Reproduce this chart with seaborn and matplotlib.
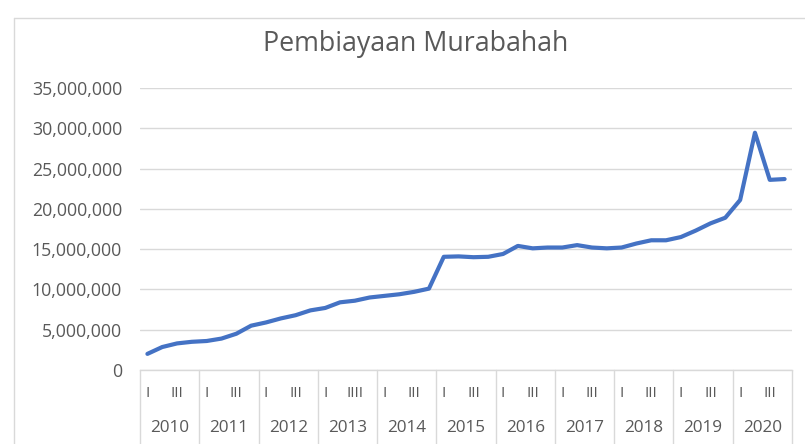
import matplotlib
matplotlib.use("Agg")
import matplotlib.pyplot as plt
import matplotlib.transforms as mtransforms
import seaborn as sns
import pandas as pd
import numpy as np

years = ["2010", "2011", "2012", "2013", "2014", "2015", "2016",
         "2017", "2018", "2019", "2020"]
quarter_labels = ["I", "II", "III", "IV"] * 3 + ["I", "II", "IIII", "IV"] + ["I", "II", "III", "IV"] * 7
values = [2.0, 2.85, 3.3, 3.5,
          3.6, 3.9, 4.5, 5.5,
          5.9, 6.4, 6.8, 7.4,
          7.7, 8.4, 8.6, 9.0,
          9.2, 9.4, 9.7, 10.1,
          14.05, 14.1, 14.0, 14.05,
          14.4, 15.4, 15.1, 15.2,
          15.2, 15.5, 15.2, 15.1,
          15.2, 15.7, 16.1, 16.1,
          16.5, 17.3, 18.2, 18.9,
          21.1, 29.45, 23.6, 23.7]
values = [v * 1e6 for v in values]

df = pd.DataFrame({"idx": np.arange(len(values)), "value": values})

sns.set_style("white")
plt.rcParams["font.family"] = ["Open Sans", "DejaVu Sans"]

W, H = 805, 444
fig = plt.figure(figsize=(W / 100, H / 100), dpi=100)
ax = fig.add_axes([140 / W, (H - 370) / H, (792 - 140) / W, (370 - 88) / H])

grey_text = "#595959"
grid_col = "#d9d9d9"

sns.lineplot(data=df, x="idx", y="value", ax=ax, color="#4472C4", linewidth=3.0)

ax.set_xlim(-0.5, len(values) - 0.5)
ax.set_ylim(0, 35e6)
ax.set_yticks(np.arange(0, 35e6 + 1, 5e6))
ax.yaxis.set_major_formatter(matplotlib.ticker.FuncFormatter(lambda v, p: f"{int(v):,}"))
ax.grid(axis="y", color=grid_col, linewidth=1)
ax.set_axisbelow(True)
for s in ["top", "right", "left"]:
    ax.spines[s].set_visible(False)
ax.spines["bottom"].set_color(grid_col)
ax.spines["bottom"].set_linewidth(1)
ax.tick_params(axis="y", length=0, pad=13, labelsize=12.8, labelcolor=grey_text)
ax.set_xticks([])
ax.set_xlabel("")
ax.set_ylabel("")

trans = mtransforms.blended_transform_factory(ax.transData, ax.transAxes)
px = 1 / (370 - 88)
# year separators
for k in range(len(years) + 1):
    xb = -0.5 + 4 * k
    ax.plot([xb, xb], [0, -80 * px], transform=trans, color=grid_col, lw=1, clip_on=False)
# quarter labels (every other)
for i, lab in enumerate(quarter_labels):
    if i % 2 == 0:
        ax.text(i, -23 * px, lab, transform=trans, ha="center", va="center",
                fontsize=11, color=grey_text, clip_on=False)
# year labels
for k, y in enumerate(years):
    ax.text(4 * k + 1.5, -58 * px, y, transform=trans, ha="center", va="center",
            fontsize=12.3, color=grey_text, clip_on=False)

fig.text(416 / W, 1 - 44 / H, "Pembiayaan Murabahah", ha="center", va="center",
         fontsize=19.3, color=grey_text)

# chart area border
fig.add_artist(plt.Line2D([14 / W, 1], [1 - 18 / H, 1 - 18 / H], transform=fig.transFigure,
                          color=grid_col, lw=1))
fig.add_artist(plt.Line2D([14 / W, 14 / W], [0, 1 - 18 / H], transform=fig.transFigure,
                          color=grid_col, lw=1))

fig.savefig("out.png", dpi=100)
